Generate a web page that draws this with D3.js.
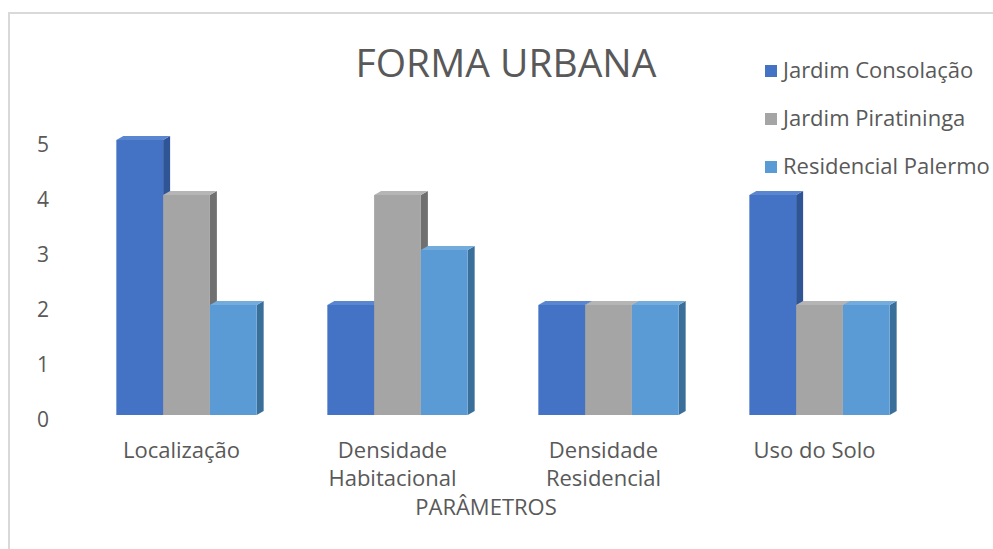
<!DOCTYPE html>
<html lang="pt">
<head>
    <meta charset="UTF-8">
    <title>Forma Urbana</title>
    <script src="https://d3js.org/d3.v7.min.js"></script>
    <style>
        body { margin: 0; background: #fff; }
        text { font-family: "Open Sans", Lato, sans-serif; fill: #595959; }
    </style>
</head>
<body>
    <div id="chart"></div>
    <script>
        // Data
        const categories = ["Localização", "Densidade Habitacional", "Densidade Residencial", "Uso do Solo"];
        const seriesNames = ["Jardim Consolação", "Jardim Piratininga", "Residencial Palermo"];
        const jardimConsolacao = [5, 2, 2, 4];
        const jardimPiratininga = [4, 4, 2, 2];
        const residencialPalermo = [2, 3, 2, 2];
        const yTicks = [0, 1, 2, 3, 4, 5];

        const seriesValues = [jardimConsolacao, jardimPiratininga, residencialPalermo];
        const colors = ["#4472C4", "#A5A5A5", "#5B9BD5"];
        const sideColors = ["#2F5597", "#707070", "#3A6F9A"];
        const topColors = ["#5A85CF", "#B5B5B5", "#74ABDD"];

        const width = 993, height = 549;
        const depthX = 7, depthY = 4;

        const svg = d3.select("#chart")
            .append("svg")
            .attr("width", width)
            .attr("height", height);

        // Outer frame (only top and left edges visible)
        svg.append("path")
            .attr("d", "M9,549 V13 H993")
            .attr("fill", "none")
            .attr("stroke", "#d9d9d9")
            .attr("stroke-width", 2);

        const x0 = d3.scaleBand()
            .domain(categories)
            .range([81, 925])
            .paddingInner(0.335)
            .paddingOuter(0.1675);

        const x1 = d3.scaleBand()
            .domain(seriesNames)
            .range([0, x0.bandwidth()]);

        const y = d3.scaleLinear()
            .domain([0, 5])
            .range([415, 140]);

        // Bars
        const groups = svg.selectAll(".group")
            .data(categories)
            .enter()
            .append("g")
            .attr("class", "group")
            .attr("transform", d => "translate(" + x0(d) + ",0)");

        groups.each(function(cat, ci) {
            const g = d3.select(this);
            seriesNames.forEach((s, si) => {
                const v = seriesValues[si][ci];
                const xa = x1(s), xb = xa + x1.bandwidth();
                const yt = y(v), yb = y(0);
                // side face
                g.append("path")
                    .attr("d", `M${xb},${yt} L${xb + depthX},${yt - depthY} L${xb + depthX},${yb - depthY} L${xb},${yb} Z`)
                    .attr("fill", sideColors[si]);
                // top face
                g.append("path")
                    .attr("d", `M${xa},${yt} L${xa + depthX},${yt - depthY} L${xb + depthX},${yt - depthY} L${xb},${yt} Z`)
                    .attr("fill", topColors[si]);
                // front face
                g.append("rect")
                    .attr("x", xa)
                    .attr("y", yt)
                    .attr("width", x1.bandwidth())
                    .attr("height", yb - yt)
                    .attr("fill", colors[si]);
            });
        });

        // Y axis
        const yAxis = svg.append("g")
            .attr("transform", "translate(49,5)")
            .call(d3.axisLeft(y).tickValues(yTicks).tickSize(0).tickPadding(0).tickFormat(d3.format("d")));
        yAxis.select(".domain").remove();
        yAxis.selectAll("text")
            .style("font-size", "21px")
            .attr("fill", "#595959");

        // X axis
        const xAxis = svg.append("g")
            .attr("transform", "translate(-5,442)")
            .call(d3.axisBottom(x0).tickSize(0).tickPadding(0));
        xAxis.select(".domain").remove();
        xAxis.selectAll(".tick text")
            .style("font-size", "22px")
            .attr("fill", "#595959")
            .each(function(d) {
                const words = d.split(" ");
                const t = d3.select(this).text(null);
                let lines = [d];
                if (words.length === 2 && d.startsWith("Densidade")) lines = words;
                lines.forEach((line, i) => {
                    t.append("tspan")
                        .attr("x", 0)
                        .attr("dy", i === 0 ? "0.71em" : "1.27em")
                        .text(line);
                });
            });

        // Axis title
        svg.append("text")
            .attr("x", 486)
            .attr("y", 515)
            .attr("text-anchor", "middle")
            .style("font-size", "22px")
            .text("PARÂMETROS");

        // Chart title
        svg.append("text")
            .attr("x", 506)
            .attr("y", 77)
            .attr("text-anchor", "middle")
            .style("font-size", "39px")
            .text("FORMA URBANA");

        // Legend
        const legend = svg.selectAll(".legend")
            .data(seriesNames)
            .enter()
            .append("g")
            .attr("class", "legend")
            .attr("transform", (d, i) => "translate(765," + (65 + i * 48) + ")");

        legend.append("rect")
            .attr("width", 12)
            .attr("height", 12)
            .attr("fill", (d, i) => colors[i]);

        legend.append("text")
            .attr("x", 18)
            .attr("y", 13)
            .style("font-size", "22px")
            .text(d => d);
    </script>
</body>
</html>
